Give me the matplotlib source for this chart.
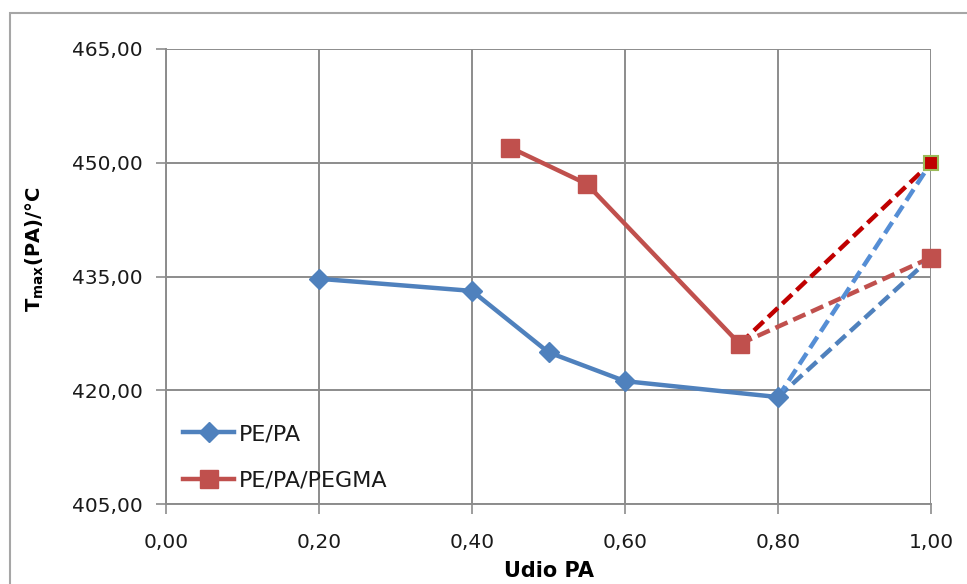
import matplotlib
matplotlib.use("Agg")
import matplotlib.pyplot as plt
from matplotlib.patches import Rectangle
from matplotlib.ticker import FuncFormatter

plt.rcParams['font.family'] = ['DejaVu Sans']

# Data
pe_pa_x = [0.20, 0.40, 0.50, 0.60, 0.80]
pe_pa_y = [434.7, 433.1, 425.0, 421.2, 419.1]
pegma_x = [0.45, 0.55, 0.75]
pegma_y = [452.0, 447.2, 426.1]
end_x = 1.00
end_high = 450.0
end_low = 437.5

x_ticks = [0.0, 0.2, 0.4, 0.6, 0.8, 1.0]
y_ticks = [405, 420, 435, 450, 465]

fig = plt.figure(figsize=(9.67, 5.84), dpi=100)
ax = fig.add_axes([166/967, 1-504/584, (931-166)/967, (504-49)/584])

# outer chart frame
fig.patches.append(Rectangle((10/967, -0.2), 1.2, 1-13/584+0.2, transform=fig.transFigure,
                             fill=False, edgecolor='#a6a6a6', linewidth=1.5))

grid_c = '#8c8c8c'
ax.set_xlim(0, 1)
ax.set_ylim(405, 465)
ax.set_xticks(x_ticks)
ax.set_yticks(y_ticks)
ax.grid(True, color=grid_c, linewidth=1.4)
ax.set_axisbelow(True)
for s in ax.spines.values():
    s.set_visible(False)
for side in ('left', 'bottom'):
    ax.spines[side].set_visible(True)
    ax.spines[side].set_color(grid_c)
    ax.spines[side].set_linewidth(1.4)
ax.tick_params(axis='both', direction='out', length=7, width=1.2, color=grid_c,
               labelsize=14.5, labelcolor='#1a1a1a')
ax.tick_params(axis='x', pad=14)
ax.tick_params(axis='y', pad=10)
fmt = FuncFormatter(lambda v, p: f"{v:.2f}".replace('.', ','))
ax.xaxis.set_major_formatter(fmt)
ax.yaxis.set_major_formatter(fmt)

blue = '#4f81bd'
lblue = '#558ed5'
red = '#c0504d'
dred = '#c00000'
dash = (0, (3, 1.4))

# dashed extrapolations
ax.plot([pegma_x[-1], end_x], [pegma_y[-1], end_low], color=red, lw=3.2, ls=dash, zorder=3)
ax.plot([pegma_x[-1], end_x], [pegma_y[-1], end_high], color=dred, lw=3.2, ls=dash, zorder=3)
ax.plot([pe_pa_x[-1], end_x], [pe_pa_y[-1], end_low], color=blue, lw=3.2, ls=dash, zorder=3)
ax.plot([pe_pa_x[-1], end_x], [pe_pa_y[-1], end_high], color=lblue, lw=3.2, ls=dash, zorder=3)

# main series
ax.plot(pe_pa_x, pe_pa_y, color=blue, lw=3.2, marker='D', markersize=10.5, label='PE/PA', zorder=4)
ax.plot(pegma_x, pegma_y, color=red, lw=3.2, marker='s', markersize=12.5, label='PE/PA/PEGMA', zorder=4)

# end markers
ax.plot([end_x], [end_low], marker='s', markersize=12.5, color=red, zorder=5, clip_on=False)
ax.plot([end_x], [end_high], marker='s', markersize=10, markerfacecolor=dred,
        markeredgecolor='#9bbb59', markeredgewidth=1.5, zorder=5, clip_on=False)

ax.set_xlabel('Udio PA', fontsize=15, fontweight='bold')
ax.xaxis.set_label_coords(0.5, (504-561)/455)
ax.set_ylabel('T$_{\\mathregular{max}}$(PA)/°C', fontsize=14, fontweight='bold')
ax.yaxis.set_label_coords((46-166)/765, 0.56)

leg = ax.legend(loc='lower left', bbox_to_anchor=(0.005, 0.0), frameon=False, fontsize=16,
                handlelength=2.3, handletextpad=0.2, labelspacing=1.2, borderaxespad=0.2)
for t in leg.get_texts():
    t.set_color('#1a1a1a')

fig.savefig('out.png', dpi=100)
